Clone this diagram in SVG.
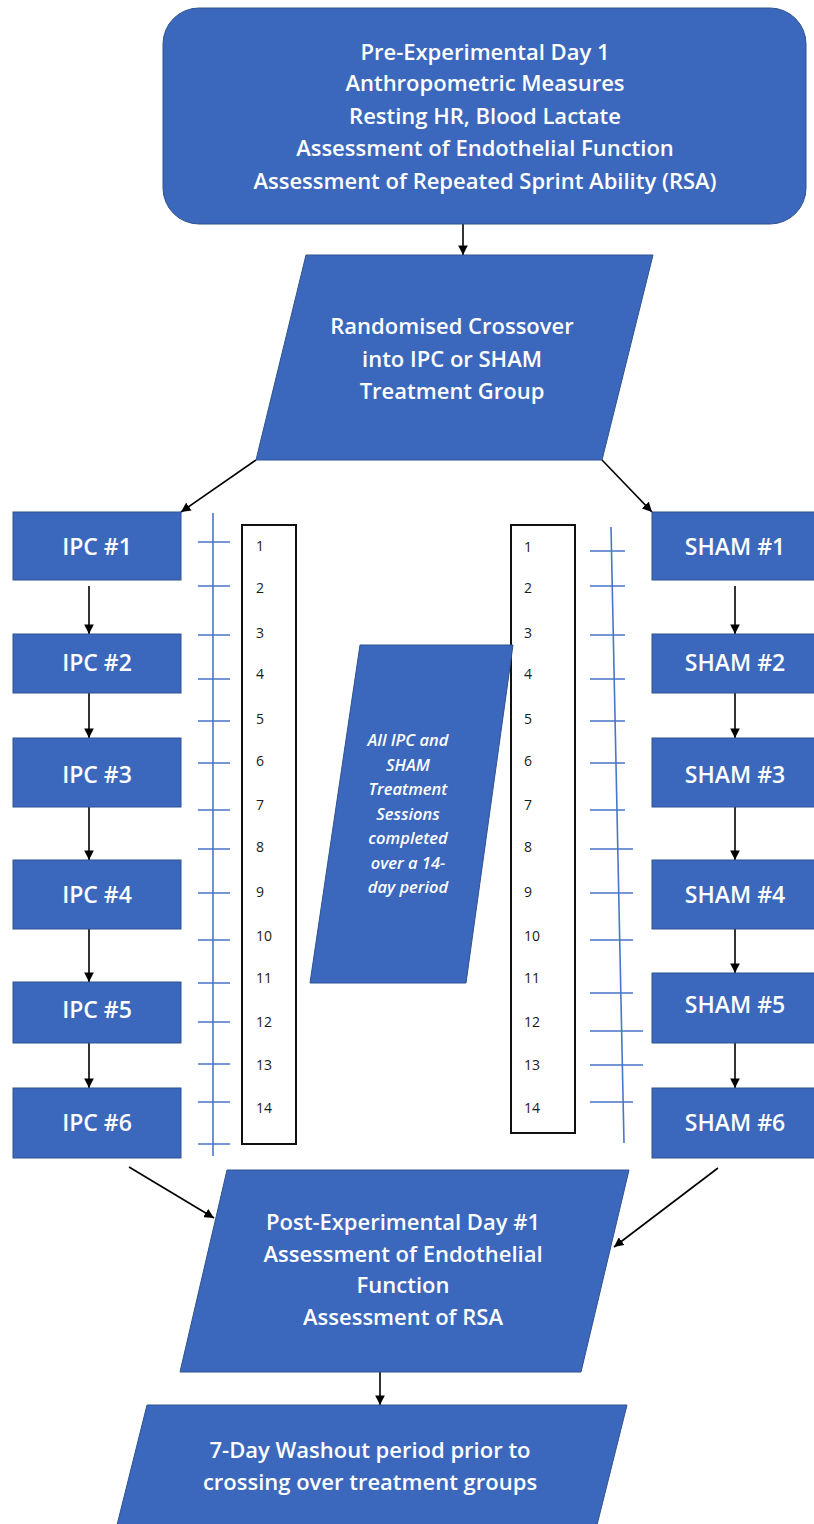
<svg xmlns="http://www.w3.org/2000/svg" width="814" height="1524" viewBox="0 0 814 1524">
<style>
.box{fill:#3B68BC;stroke:#2F528F;stroke-width:1}
.t{font-family:"Open Sans","Liberation Sans",sans-serif;fill:#fff;text-anchor:middle;font-weight:600}
.big{font-size:22px}
.lbl{font-size:23px}
.it{font-size:16.5px;font-style:italic}
.num{font-family:"Open Sans","Liberation Sans",sans-serif;font-size:14px;fill:#1a1a1a}
.nbox{fill:none;stroke:#111;stroke-width:2}
.tick{stroke:#4A76C8;stroke-width:1.6;fill:none}
.con{stroke:#000;stroke-width:1.6;fill:none;marker-end:url(#ah)}
</style>
<defs>
<marker id="ah" viewBox="0 0 10 10" refX="10" refY="5" markerWidth="6" markerHeight="6" markerUnits="strokeWidth" orient="auto">
<path d="M0,0 L10,5 L0,10 z" fill="#000"/>
</marker>
</defs>
<rect width="814" height="1524" fill="#fff"/>

<g id="timeline-left">
<rect class="nbox" x="242" y="525" width="54" height="619"/>
<line class="tick" x1="213" y1="513" x2="213" y2="1156"/>
<path class="tick" d="M198,542H230M198,586H230M198,635H230M198,679H230M198,721H230M198,763H230M198,810H230M198,849H230M198,893H230M198,940H230M198,983H230M198,1022H230M198,1064H230M198,1102H230M198,1144H230"/>
<g class="num">
<text x="256" y="551">1</text><text x="256" y="593">2</text><text x="256" y="638">3</text><text x="256" y="679">4</text><text x="256" y="724">5</text><text x="256" y="766">6</text><text x="256" y="810">7</text><text x="256" y="852">8</text><text x="256" y="897">9</text><text x="256" y="941">10</text><text x="256" y="983">11</text><text x="256" y="1027">12</text><text x="256" y="1070">13</text><text x="256" y="1113">14</text>
</g>
</g>

<g id="timeline-right">
<rect class="nbox" x="511" y="525" width="64" height="608"/>
<line class="tick" x1="611" y1="527" x2="624" y2="1143"/>
<path class="tick" d="M590,551H625M590,586H625M590,635H625M590,679H625M590,721H625M590,763H625M590,810H625M590,849H633M590,893H633M590,940H633M590,993H633M590,1031H643M590,1065H643M590,1102H633"/>
<g class="num">
<text x="524" y="552">1</text><text x="524" y="593">2</text><text x="524" y="638">3</text><text x="524" y="679">4</text><text x="524" y="724">5</text><text x="524" y="766">6</text><text x="524" y="810">7</text><text x="524" y="852">8</text><text x="524" y="897">9</text><text x="524" y="941">10</text><text x="524" y="983">11</text><text x="524" y="1027">12</text><text x="524" y="1070">13</text><text x="524" y="1113">14</text>
</g>
</g>

<g id="connectors">
<line class="con" x1="463" y1="224" x2="463" y2="255"/>
<line class="con" x1="256" y1="460" x2="181" y2="512"/>
<line class="con" x1="602" y1="460" x2="652" y2="512"/>
<line class="con" x1="89" y1="586" x2="89" y2="634"/>
<line class="con" x1="89" y1="693" x2="89" y2="738"/>
<line class="con" x1="89" y1="807" x2="89" y2="860"/>
<line class="con" x1="89" y1="929" x2="89" y2="982"/>
<line class="con" x1="89" y1="1043" x2="89" y2="1088"/>
<line class="con" x1="735" y1="586" x2="735" y2="634"/>
<line class="con" x1="735" y1="693" x2="735" y2="738"/>
<line class="con" x1="735" y1="807" x2="735" y2="860"/>
<line class="con" x1="735" y1="929" x2="735" y2="973"/>
<line class="con" x1="735" y1="1043" x2="735" y2="1088"/>
<line class="con" x1="129" y1="1167" x2="214" y2="1218"/>
<line class="con" x1="718" y1="1168" x2="614" y2="1247"/>
<line class="con" x1="380" y1="1372" x2="380" y2="1405"/>
</g>

<g id="pre">
<rect class="box" x="163" y="8" width="643" height="216" rx="36"/>
<text class="t big" x="485" y="60">Pre-Experimental Day 1</text>
<text class="t big" x="485" y="91">Anthropometric Measures</text>
<text class="t big" x="485" y="124">Resting HR, Blood Lactate</text>
<text class="t big" x="485" y="156">Assessment of Endothelial Function</text>
<text class="t big" x="485" y="189">Assessment of Repeated Sprint Ability (RSA)</text>
</g>

<g id="random">
<polygon class="box" points="306,255 653,255 602,460 256,460"/>
<text class="t big" x="452" y="334">Randomised Crossover</text>
<text class="t big" x="452" y="367">into IPC or SHAM</text>
<text class="t big" x="452" y="399">Treatment Group</text>
</g>

<g id="ipc1"><rect class="box" x="13" y="512" width="168" height="68"/><text class="t lbl" x="97" y="555">IPC #1</text></g>
<g id="ipc2"><rect class="box" x="13" y="634" width="168" height="59"/><text class="t lbl" x="97" y="671">IPC #2</text></g>
<g id="ipc3"><rect class="box" x="13" y="738" width="168" height="69"/><text class="t lbl" x="97" y="783">IPC #3</text></g>
<g id="ipc4"><rect class="box" x="13" y="860" width="168" height="69"/><text class="t lbl" x="97" y="903">IPC #4</text></g>
<g id="ipc5"><rect class="box" x="13" y="982" width="168" height="61"/><text class="t lbl" x="97" y="1018">IPC #5</text></g>
<g id="ipc6"><rect class="box" x="13" y="1088" width="168" height="70"/><text class="t lbl" x="97" y="1131">IPC #6</text></g>

<g id="sham1"><rect class="box" x="652" y="512" width="166" height="68"/><text class="t lbl" x="735" y="555">SHAM #1</text></g>
<g id="sham2"><rect class="box" x="652" y="634" width="166" height="59"/><text class="t lbl" x="735" y="671">SHAM #2</text></g>
<g id="sham3"><rect class="box" x="652" y="738" width="166" height="69"/><text class="t lbl" x="735" y="783">SHAM #3</text></g>
<g id="sham4"><rect class="box" x="652" y="860" width="166" height="69"/><text class="t lbl" x="735" y="903">SHAM #4</text></g>
<g id="sham5"><rect class="box" x="652" y="973" width="166" height="70"/><text class="t lbl" x="735" y="1013">SHAM #5</text></g>
<g id="sham6"><rect class="box" x="652" y="1088" width="166" height="70"/><text class="t lbl" x="735" y="1131">SHAM #6</text></g>

<g id="period">
<polygon class="box" points="360,645 513,645 466,983 310,983"/>
<text class="t it" x="408" y="746">All IPC and</text>
<text class="t it" x="408" y="771">SHAM</text>
<text class="t it" x="408" y="795">Treatment</text>
<text class="t it" x="408" y="820">Sessions</text>
<text class="t it" x="408" y="844">completed</text>
<text class="t it" x="408" y="869">over a 14-</text>
<text class="t it" x="408" y="893">day period</text>
</g>

<g id="post">
<polygon class="box" points="227,1170 629,1170 581,1372 180,1372"/>
<text class="t big" x="403" y="1230">Post-Experimental Day #1</text>
<text class="t big" x="403" y="1262">Assessment of Endothelial</text>
<text class="t big" x="403" y="1293">Function</text>
<text class="t big" x="403" y="1325">Assessment of RSA</text>
</g>

<g id="washout">
<polygon class="box" points="147,1405 627,1405 577,1605 97,1605"/>
<text class="t big" x="370" y="1458">7-Day Washout period prior to</text>
<text class="t big" x="370" y="1490">crossing over treatment groups</text>
</g>
</svg>
